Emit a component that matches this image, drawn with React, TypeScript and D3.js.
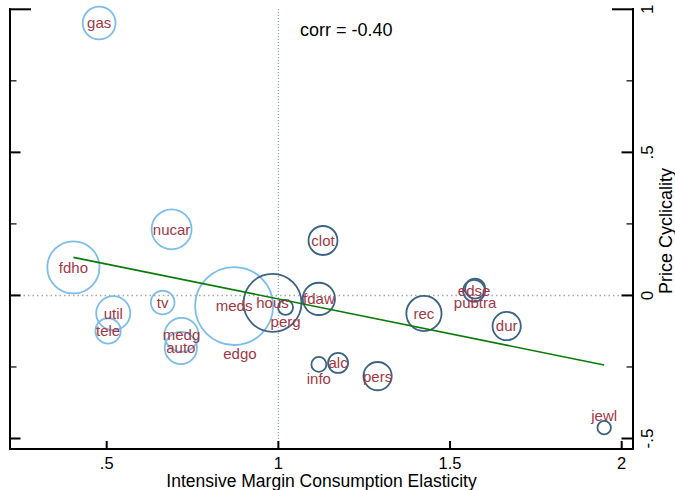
import React from "react";
import * as d3 from "d3";

const categories = ["gas","nucar","fdho","clot","tv","util","tele","medg","auto","meds","edgo","hous","perg","fdaw","info","alc","pers","rec","edse","pubtra","dur","jewl"];
const elasticity = [0.478,0.689,0.403,1.130,0.663,0.519,0.504,0.718,0.716,0.871,0.888,0.983,1.021,1.118,1.118,1.174,1.289,1.424,1.570,1.573,1.665,1.949];
const cyclicality = [0.952,0.231,0.098,0.192,-0.025,-0.062,-0.124,-0.138,-0.184,-0.037,-0.205,-0.026,-0.042,-0.012,-0.241,-0.236,-0.282,-0.063,0.016,0.024,-0.107,-0.462];
const weight = [2.7,4.0,6.8,2.1,1.4,2.9,1.6,2.9,2.6,15.2,0,8.4,0.56,2.6,0.56,1.0,2.0,3.1,1.2,1.0,2.0,0.45];
const group = ["low","low","low","high","low","low","low","low","low","low","low","high","high","high","high","high","high","high","high","high","high","high"];
// label position (clock): 0 = centered, 6 = below, 12 = above
const labelPos = [0,0,0,0,0,0,0,0,0,0,0,0,6,0,6,0,0,0,0,6,0,12];

const xTicks = [0.5, 1, 1.5, 2];
const xTickLabels = [".5", "1", "1.5", "2"];
const yTicks = [-0.5, 0, 0.5, 1];
const yTickLabels = ["-.5", "0", ".5", "1"];
const yMinorTicks = [-0.25, 0.25, 0.75];

const fitIntercept = 0.2309;
const fitSlope = -0.2432;
const corrText = "corr = -0.40";
const xTitle = "Intensive Margin Consumption Elasticity";
const yTitle = "Price Cyclicality";

const FONT = "'Liberation Sans', Arial, Helvetica, sans-serif";
const colors: Record<string, string> = { low: "#7dbde9", high: "#3d6383" };
const labelColor = "#a03844";

export default function App() {
  const left = 10, right = 633, top = 9, bottom = 449;
  const x = d3.scaleLinear().domain([0.5, 2]).range([106.7, 621.7]);
  const y = d3.scaleLinear().domain([-0.5, 1]).range([438.5, 9.3]);
  const r = d3.scaleSqrt().domain([0, 1]).range([0, 10]);

  const pts = categories.map((c, i) => ({
    name: c, x: elasticity[i], y: cyclicality[i], w: weight[i], g: group[i], lp: labelPos[i],
  }));

  const xExt = d3.extent(elasticity) as [number, number];
  const fitLine = d3.line<number>().x((d) => x(d)).y((d) => y(fitIntercept + fitSlope * d));

  return (
    <svg width={675} height={490} style={{ position: "absolute", left: 0, top: 0, background: "#fff" }} fontFamily={FONT}>
      {/* reference lines */}
      <line x1={x(1)} x2={x(1)} y1={top} y2={bottom} stroke="#8aa6c4" strokeWidth={1.3} strokeDasharray="1,2" />
      <line x1={left} x2={right} y1={y(0)} y2={y(0)} stroke="#a8a8a8" strokeWidth={1.5} strokeDasharray="1.5,3" />

      {/* circles */}
      {pts.filter((p) => p.w > 0).map((p) => (
        <circle key={p.name} cx={x(p.x)} cy={y(p.y)} r={r(p.w)} fill="none" stroke={colors[p.g]} strokeWidth={1.8} />
      ))}

      {/* fit line */}
      <path d={fitLine(xExt) || ""} fill="none" stroke="#0a7a0a" strokeWidth={1.6} />

      {/* labels */}
      {pts.map((p) => {
        const dy = p.lp === 6 ? 14 : p.lp === 12 ? -12.5 : 0;
        return (
          <text key={p.name} x={x(p.x)} y={y(p.y) + dy} dy="0.36em" textAnchor="middle" fontSize={15} fill={labelColor}>
            {p.name}
          </text>
        );
      })}

      {/* axes */}
      <line x1={left} x2={left} y1={top - 1} y2={bottom + 1} stroke="#000" strokeWidth={2} />
      <line x1={right} x2={right} y1={top - 1} y2={bottom + 1} stroke="#000" strokeWidth={2} />
      <line x1={left - 1} x2={right + 1} y1={bottom} y2={bottom} stroke="#000" strokeWidth={2} />

      {yTicks.map((t) => {
        const len = t === 1 ? 21 : 10.5;
        const lenR = t === 1 ? 21 : 11.5;
        return (
          <g key={"yt" + t}>
            <line x1={left} x2={left + len} y1={y(t)} y2={y(t)} stroke="#000" strokeWidth={2} />
            <line x1={right} x2={right - lenR} y1={y(t)} y2={y(t)} stroke="#000" strokeWidth={2} />
          </g>
        );
      })}
      {yMinorTicks.map((t) => (
        <g key={"ym" + t}>
          <line x1={left} x2={left + 6.5} y1={y(t)} y2={y(t)} stroke="#000" strokeWidth={1.2} />
          <line x1={right} x2={right - 6.5} y1={y(t)} y2={y(t)} stroke="#000" strokeWidth={1.2} />
        </g>
      ))}
      {yTicks.map((t, i) => (
        <text key={"yl" + t} transform={`translate(652.5,${y(t)}) rotate(-90)`} textAnchor="middle" fontSize={17} fill="#000">
          {yTickLabels[i]}
        </text>
      ))}
      {xTicks.map((t, i) => (
        <g key={"xt" + t}>
          <line x1={x(t)} x2={x(t)} y1={bottom} y2={bottom - 8} stroke="#000" strokeWidth={2} />
          <text x={x(t)} y={469} textAnchor="middle" fontSize={16.5} fill="#000">{xTickLabels[i]}</text>
        </g>
      ))}

      <text x={(left + right) / 2} y={486.5} textAnchor="middle" fontSize={17.5} fill="#000">{xTitle}</text>
      <text transform={`translate(672,231) rotate(-90)`} textAnchor="middle" fontSize={18} fill="#000">{yTitle}</text>
      <text x={300} y={36} fontSize={18} fill="#000">{corrText}</text>
    </svg>
  );
}
